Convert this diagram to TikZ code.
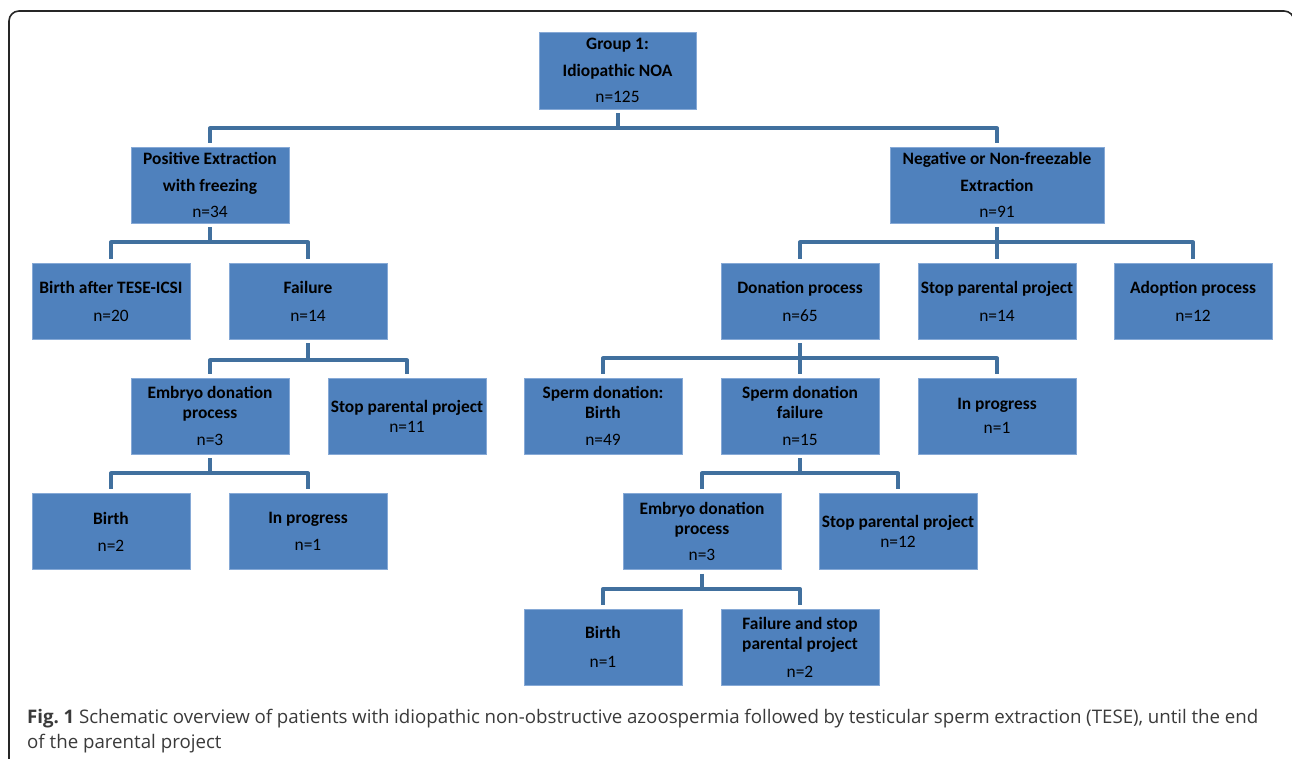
\documentclass[tikz,border=0pt]{standalone}
\usepackage{fontspec}
\setmainfont{Carlito}
\newfontfamily\capfont{Open Sans}
\definecolor{boxblue}{HTML}{4F81BD}
\definecolor{boxedge}{HTML}{86A9D6}
\definecolor{linkblue}{HTML}{41709E}
\definecolor{capgray}{HTML}{3A3A3A}
\newcommand\ncount[1]{{\mdseries n=#1}}
\frenchspacing
\begin{document}
\begin{tikzpicture}[x=1pt,y=-1pt,
  box/.style={fill=boxblue, draw=boxedge, line width=0.8pt, minimum width=158pt,
    minimum height=76pt, inner sep=0pt, align=center,
    font=\fontsize{17.4}{20}\selectfont\bfseries, text=black},
  conn/.style={draw=linkblue, line width=4pt, shorten <=4pt, shorten >=4pt, line join=round},
  captext/.style={anchor=base west, inner sep=0pt, text=capgray,
    font=\capfont\fontsize{18.7}{21}\selectfont}]
\useasboundingbox (0,0) rectangle (1292,758);
\clip (0,0) rectangle (1292,758);
\draw[line width=1.6pt, rounded corners=10pt, black!85] (9,11) rectangle (1294,790);

% nodes
\node[box, minimum width=157pt, minimum height=77pt] (g1) at (617.5,70.5) {Group 1:\\[7pt]Idiopathic NOA\\[6.5pt]\ncount{125}};
\node[box] (pos) at (210,185) {Positive Extraction\\[7pt]with freezing\\[6.5pt]\ncount{34}};
\node[box, minimum width=214pt] (neg) at (997,185) {Negative or Non-freezable\\[7pt]Extraction\\[6.5pt]\ncount{91}};
\node[box] (bat) at (111,301) {Birth after TESE-ICSI\\[8pt]\ncount{20}};
\node[box] (fail) at (308,301) {Failure\\[8pt]\ncount{14}};
\node[box] (edl) at (210,416) {Embryo donation\\process\\[6.5pt]\ncount{3}};
\node[box] (spl) at (407,416) {Stop parental project\\\ncount{11}};
\node[box] (bl) at (111,531.5) {Birth\\[7pt]\ncount{2}};
\node[box] (ipl) at (308,531.5) {In progress\\[7pt]\ncount{1}};
\node[box] (don) at (800,301) {Donation process\\[8pt]\ncount{65}};
\node[box] (spr) at (997,301) {Stop parental project\\[8pt]\ncount{14}};
\node[box] (adp) at (1193,301) {Adoption process\\[8pt]\ncount{12}};
\node[box] (sdb) at (603,416) {Sperm donation:\\Birth\\[6.5pt]\ncount{49}};
\node[box] (sdf) at (800,416) {Sperm donation\\failure\\[6.5pt]\ncount{15}};
\node[box] (ipr) at (997,416) {In progress\\[4pt]\ncount{1}};
\node[box] (edr) at (702,531.5) {Embryo donation\\process\\[6.5pt]\ncount{3}};
\node[box] (sprb) at (898,531.5) {Stop parental project\\\ncount{12}};
\node[box] (bb) at (603,647) {Birth\\[9pt]\ncount{1}};
\node[box] (fs) at (800,647) {Failure and stop\\parental project\\[8pt]\ncount{2}};

% connectors
\foreach \p/\c in {g1/pos, g1/neg, pos/bat, pos/fail, edl/bl, edl/ipl,
  neg/don, neg/spr, neg/adp, don/sdb, don/sdf, don/ipr, sdf/edr, sdf/sprb, edr/bb, edr/fs}
  \draw[conn] (\p.south) -- ++(0,19) -| (\c.north);
\foreach \c in {edl, spl}
  \draw[conn] (fail.south) -- ++(0,21) -| (\c.north);

% caption
\node[captext] (cap1) at (27,723) {\makebox[1231pt][s]{\textbf{Fig. 1} Schematic overview of patients with idiopathic non-obstructive azoospermia followed by testicular sperm extraction (TESE), until the end}};
\node[captext] (cap2) at (27,748) {of the parental project};
\end{tikzpicture}
\end{document}
